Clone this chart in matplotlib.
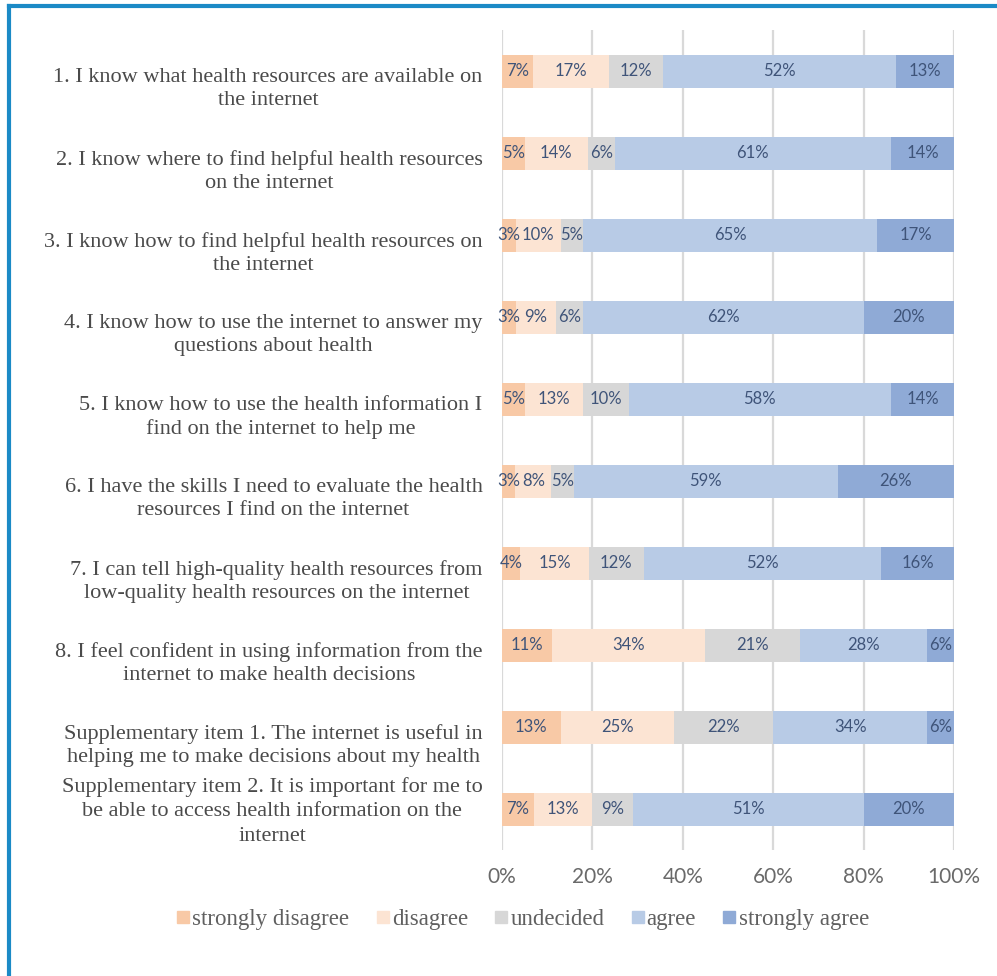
import numpy as np
import matplotlib
matplotlib.use("Agg")
import matplotlib.pyplot as plt
from matplotlib.lines import Line2D

# survey items (top to bottom)
items = [
    "1. I know what health resources are available on\nthe internet",
    "2. I know where to find helpful health resources\non the internet",
    "3. I know how to find helpful health resources on\nthe internet",
    "4. I know how to use the internet to answer my\nquestions about health",
    "5. I know how to use the health information I\nfind on the internet to help me",
    "6. I have the skills I need to evaluate the health\nresources I find on the internet",
    "7. I can tell high-quality health resources from\nlow-quality health resources on the internet",
    "8. I feel confident in using information from the\ninternet to make health decisions",
    "Supplementary item 1. The internet is useful in\nhelping me to make decisions about my health",
    "Supplementary item 2. It is important for me to\nbe able to access health information on the\ninternet",
]
levels = ["strongly disagree", "disagree", "undecided", "agree", "strongly agree"]

strongly_disagree = [7, 5, 3, 3, 5, 3, 4, 11, 13, 7]
disagree = [17, 14, 10, 9, 13, 8, 15, 34, 25, 13]
undecided = [12, 6, 5, 6, 10, 5, 12, 21, 22, 9]
agree = [52, 61, 65, 62, 58, 59, 52, 28, 34, 51]
strongly_agree = [13, 14, 17, 20, 14, 26, 16, 6, 6, 20]

colors = ["#F8C9A6", "#FCE4D3", "#D7D7D7", "#B8CBE6", "#8FAAD6"]
label_col = "#3F5479"

vals = np.array([strongly_disagree, disagree, undecided, agree, strongly_agree], dtype=float)
share = vals / vals.sum(axis=0) * 100   # 100 % stacked

fig = plt.figure(figsize=(9.97, 9.76), dpi=100)
ax = fig.add_axes([0.5035, 0.129, 0.4535, 0.84])

y = np.arange(len(items))
left = np.zeros(len(items))
for k, name in enumerate(levels):
    ax.barh(y, share[k], left=left, height=0.4, color=colors[k], label=name, zorder=2)
    for i in range(len(items)):
        ax.text(left[i] + share[k][i] / 2, y[i], f"{int(vals[k][i])}%",
                ha="center", va="center", fontsize=12, color=label_col,
                family="Lato", zorder=3)
    left += share[k]

ax.set_xlim(0, 100)
ax.set_ylim(len(items) - 0.5, -0.5)
ax.set_xticks(np.arange(0, 101, 20))
ax.set_xticklabels([f"{t}%" for t in range(0, 101, 20)], family="Lato",
                   fontsize=15, color="#6A6A6A")
ax.set_yticks(y)
ax.set_yticklabels([])
ax.tick_params(length=0)
ax.tick_params(axis="x", pad=12)
ax.grid(axis="x", color="#D9D9D9", lw=1.6, zorder=0)
for s in ax.spines.values():
    s.set_visible(False)

# category labels: two-line labels sit a little below the bar centre (as in Excel)
for i, txt in enumerate(items):
    two = txt.count("\n") == 1
    ax.annotate(txt, xy=(0, y[i]), xycoords=("axes fraction", "data"),
                xytext=(-14, -13 if two else -1.5), textcoords="offset points",
                ha="right", va="center", multialignment="center",
                linespacing=1.3 if two else 1.4, family="Liberation Serif",
                fontsize=16, color="#4A4A4A")

handles = [Line2D([], [], marker="s", ls="", ms=8, color=c) for c in colors]
fig.legend(handles, levels, loc="center", bbox_to_anchor=(0.523, 0.058), ncol=5,
           frameon=False, prop={"family": "Liberation Serif", "size": 16.5},
           labelcolor="#606060", handletextpad=0.0, columnspacing=1.05,
           handlelength=0.8)

# blue frame lines (top and left only)
fig.add_artist(Line2D([0.0095, 1.0], [0.9935, 0.9935], color="#1B8AC6", lw=3,
                      transform=fig.transFigure))
fig.add_artist(Line2D([0.0095, 0.0095], [0.0, 0.9935], color="#1B8AC6", lw=3,
                      transform=fig.transFigure))

fig.savefig("out.png", dpi=100)
